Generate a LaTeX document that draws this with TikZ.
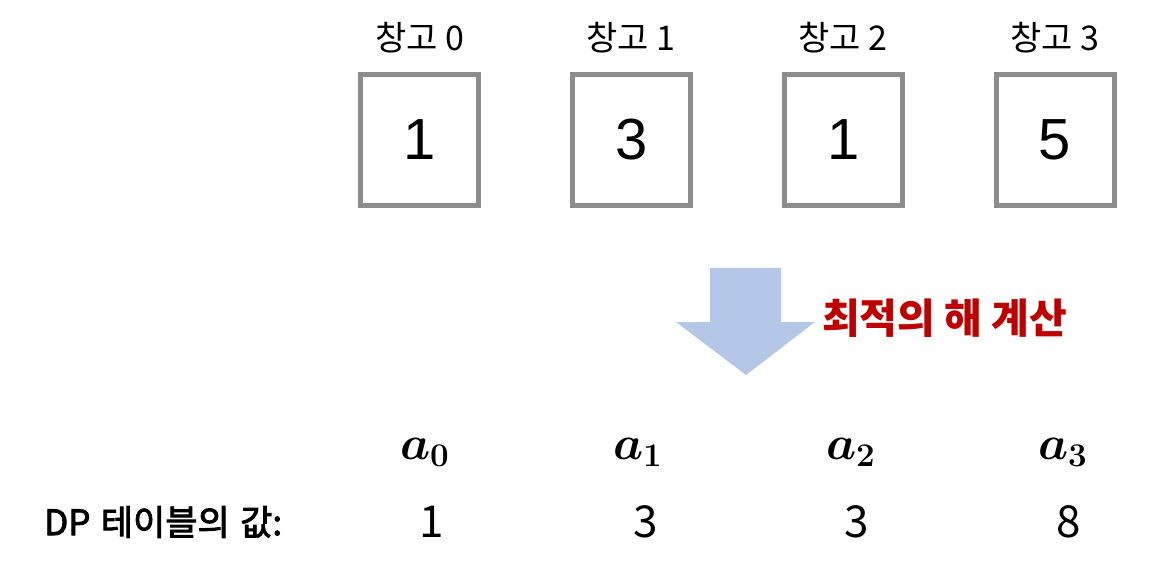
\documentclass[tikz,border=0pt]{standalone}
\usepackage{fontspec}
\usepackage{amsmath,bm,graphicx}
\newfontfamily\kr{Noto Sans CJK KR}
\newfontfamily\krmed[FakeBold=2.5]{Noto Sans CJK KR}
\newfontfamily\arial{Liberation Sans}
\definecolor{boxgray}{HTML}{8C8C8C}
\definecolor{arrowblue}{HTML}{B4C7E7}
\definecolor{calcred}{HTML}{C00000}
\tikzset{
  store/.style={draw=boxgray, line width=5pt, minimum width=118pt, minimum height=131pt, inner sep=0pt, font=\arial\fontsize{58}{60}\selectfont},
  storelabel/.style={font=\kr\fontsize{34}{36}\selectfont, inner sep=0pt},
  mathlabel/.style={inner sep=0pt},
  dpval/.style={font=\kr\fontsize{44}{48}\selectfont, inner sep=0pt},
}
\newcommand{\bigmath}[1]{\scalebox{2.3}{\fontsize{20}{24}\selectfont\boldmath$#1$}}
\begin{document}
\begin{tikzpicture}[x=1pt,y=-1pt]
\useasboundingbox (0,0) rectangle (1168,580);
\fill[white] (0,0) rectangle (1168,580);
% storage boxes
\node[store] (b0) at (419.5,140) {1};
\node[store] (b1) at (631.5,140) {3};
\node[store] (b2) at (843.5,140) {1};
\node[store] (b3) at (1055,140) {5};
% labels
\node[storelabel] (l0) at (420,38) {창고~0};
\node[storelabel] (l1) at (631,38) {창고~1};
\node[storelabel] (l2) at (843,38) {창고~2};
\node[storelabel] (l3) at (1055,38) {창고~3};
% arrow
\fill[arrowblue] (710,268) -- (781,268) -- (781,322) -- (815,322) -- (746,375) -- (676,322) -- (710,322) -- cycle;
\node[font=\kr\bfseries\fontsize{41}{44}\selectfont, text=calcred, inner sep=0pt, anchor=west] (calc) at (822,318) {최적의 해 계산};
% math labels
\node[mathlabel] (a0) at (425,452) {\bigmath{a_0}};
\node[mathlabel] (a1) at (638,452) {\bigmath{a_1}};
\node[mathlabel] (a2) at (851,452) {\bigmath{a_2}};
\node[mathlabel] (a3) at (1063,452) {\bigmath{a_3}};
% DP row
\node[font=\krmed\fontsize{35}{38}\selectfont, inner sep=0pt, anchor=west] (dp) at (44,522) {DP\hspace{0.3em}테이블의\hspace{0.3em}값:};
\node[dpval] (v0) at (432,522) {1};
\node[dpval] (v1) at (646,522) {3};
\node[dpval] (v2) at (857,522) {3};
\node[dpval] (v3) at (1069,522) {8};
\end{tikzpicture}
\end{document}
